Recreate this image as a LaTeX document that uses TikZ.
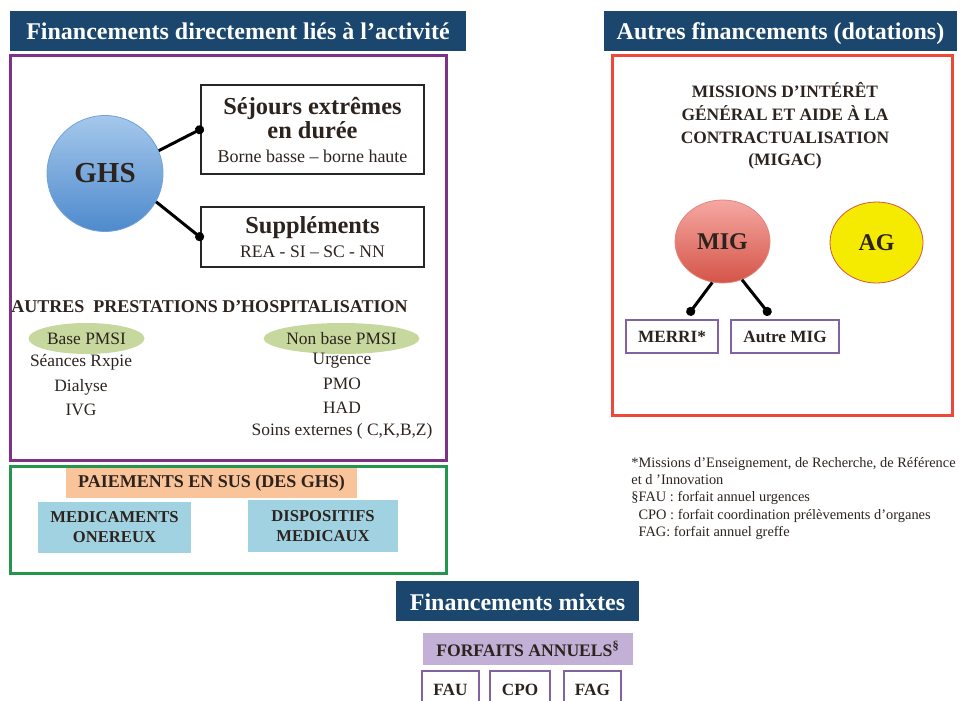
\documentclass[tikz,border=0pt]{standalone}
\usepackage{fontspec}
\setmainfont{Liberation Serif}
\definecolor{titleblue}{RGB}{27,71,110}
\definecolor{inkdark}{RGB}{45,35,30}
\definecolor{actpurple}{RGB}{125,50,135}
\definecolor{susgreen}{RGB}{35,150,75}
\definecolor{dotred}{RGB}{238,72,58}
\definecolor{ghstop}{RGB}{165,200,235}
\definecolor{ghsbot}{RGB}{78,138,205}
\definecolor{migtop}{RGB}{245,168,162}
\definecolor{migbot}{RGB}{212,84,72}
\definecolor{agyellow}{RGB}{245,235,0}
\definecolor{pmsigreen}{RGB}{198,216,158}
\definecolor{susorange}{RGB}{250,196,154}
\definecolor{dmblue}{RGB}{160,210,225}
\definecolor{boxlilac}{RGB}{128,100,162}
\definecolor{forfaitfill}{RGB}{195,176,214}
\usetikzlibrary{positioning, arrows.meta, shapes.geometric}

\begin{document}
\begin{tikzpicture}[x=0.5pt, y=-0.5pt,
    every node/.append style={text=inkdark},
    header/.style={fill=titleblue, text=white, inner sep=0pt, minimum height=20pt,
      text height=10pt, text depth=1pt, font=\fontsize{12}{14}\selectfont\bfseries},
    frame/.style={draw, line width=1.5pt, inner sep=0pt},
    blackbox/.style={draw=black!85, line width=1pt, inner sep=0pt, align=center,
      minimum width=111.5pt},
    bigb/.style={font=\fontsize{14.5}{16}\selectfont\bfseries},
    pmsi/.style={ellipse, fill=pmsigreen, inner sep=0pt, minimum width=58pt,
      minimum height=15.5pt, font=\fontsize{8.7}{10}\selectfont},
    item/.style={font=\fontsize{8.7}{10}\selectfont, inner sep=0pt},
    capsb/.style={font=\fontsize{9}{10.5}\selectfont\bfseries, inner sep=0pt, align=center},
    lilac/.style={draw=boxlilac, line width=1pt, inner sep=0pt,
      font=\fontsize{8.6}{10}\selectfont\bfseries},
    link/.style={line width=1.5pt, -{Circle[length=4.5pt]}},
  ]
  \useasboundingbox (0,0) rectangle (961,700);

  % activite
  \node[header, minimum width=228pt] (hact) at (238,31) {Financements directement liés à l’activité};
  \node[frame, draw=actpurple, minimum width=218pt, minimum height=202pt] (actbox) at (228,258) {};
  \node[circle, bigb, minimum size=58pt, inner sep=0pt, top color=ghstop, bottom color=ghsbot,
    draw=ghsbot!80] (ghs) at (105,173.5) {GHS};
  \node[blackbox, minimum height=44.5pt] (sej) at (312.5,129.5)
    {\fontsize{12.2}{13}\selectfont\bfseries Séjours extrêmes\\
     \fontsize{12.2}{13}\selectfont\bfseries en durée\\
     \fontsize{9}{12}\selectfont Borne basse -- borne haute};
  \node[blackbox, minimum height=30pt] (sup) at (312.5,237)
    {\fontsize{12.2}{12}\selectfont\bfseries Suppléments\\
     \fontsize{8.8}{12}\selectfont REA - SI -- SC - NN};
  \draw[link, shorten >=-2pt] (ghs.23) -- (sej.west);
  \draw[link, shorten >=-2pt] (ghs.-29) -- (sup.west);

  \node[capsb, anchor=west] (autres) at (11,307) {AUTRES\ \ PRESTATIONS D’HOSPITALISATION};
  \node[pmsi] (base) at (86.5,338.5) {Base PMSI};
  \node[item] (seances) at (81,362) {Séances Rxpie};
  \node[item] (dialyse) at (81,387) {Dialyse};
  \node[item] (ivg) at (81,410) {IVG};
  \node[pmsi, minimum width=63pt] (nonbase) at (341.5,338.5) {Non base PMSI};
  \node[item] (urgence) at (342,361) {Urgence};
  \node[item] (pmo) at (342,384) {PMO};
  \node[item] (had) at (342,408) {HAD};
  \node[item] (soins) at (342,431) {Soins externes ( C,K,B,Z)};

  % paiements en sus
  \node[frame, draw=susgreen, minimum width=218pt, minimum height=53.5pt] (susbox) at (228,519.5) {};
  \node[capsb, fill=susorange, minimum width=145.5pt, minimum height=15pt] (sus) at (211.5,483)
    {PAIEMENTS EN SUS (DES GHS)};
  \node[capsb, font=\fontsize{8.3}{10}\selectfont\bfseries, fill=dmblue, minimum width=76.5pt,
    minimum height=25.5pt] (medic) at (114.5,527.5) {MEDICAMENTS\\ONEREUX};
  \node[capsb, font=\fontsize{8.3}{10}\selectfont\bfseries, fill=dmblue, minimum width=75pt,
    minimum height=26pt] (dispo) at (323,526) {DISPOSITIFS\\MEDICAUX};

  % dotations
  \node[header, minimum width=176.5pt] (hdot) at (780.5,31) {Autres financements (dotations)};
  \node[frame, draw=dotred, minimum width=170pt, minimum height=179.5pt] (dotbox) at (782,235.5) {};
  \node[capsb, font=\fontsize{8.7}{11.4}\selectfont\bfseries] (migac) at (785,126)
    {MISSIONS D’INTÉRÊT\\GÉNÉRAL ET AIDE À LA\\CONTRACTUALISATION\\(MIGAC)};
  \node[ellipse, font=\fontsize{12}{14}\selectfont\bfseries, minimum width=47.5pt,
    minimum height=41.5pt, inner sep=0pt, top color=migtop, bottom color=migbot,
    draw=migbot!70] (mig) at (722.5,241.5) {MIG};
  \node[ellipse, font=\fontsize{12}{14}\selectfont\bfseries, minimum width=46.5pt,
    minimum height=40.5pt, inner sep=0pt, fill=agyellow, draw=migbot] (ag) at (876.5,242.5) {AG};
  \node[lilac, minimum width=46pt, minimum height=16.5pt] (merri) at (672,336.5) {MERRI*};
  \node[lilac, minimum width=54pt, minimum height=16.5pt] (autremig) at (785,336.5) {Autre MIG};
  \draw[link] (mig.256) -- ([xshift=8pt, yshift=2pt]merri.north);
  \draw[link] (mig.297) -- ([xshift=-7.5pt, yshift=2pt]autremig.north);

  \node[anchor=north west, align=left, inner sep=0pt,
    font=\fontsize{7.2}{8.6}\selectfont] (notes) at (631,457)
    {*Missions d’Enseignement, de Recherche, de Référence\\
     et d ’Innovation\\
     §FAU : forfait annuel urgences\\
     \ \ CPO : forfait coordination prélèvements d’organes\\
     \ \ FAG: forfait annuel greffe};

  % mixtes
  \node[header, minimum width=121.5pt] (hmix) at (517.5,601) {Financements mixtes};
  \node[capsb, font=\fontsize{8.8}{10}\selectfont\bfseries, fill=forfaitfill, minimum width=105pt,
    minimum height=16pt] (forfaits) at (528,649) {FORFAITS ANNUELS\textsuperscript{§}};
  \node[lilac, minimum width=28.5pt, minimum height=19pt] (fau) at (450.5,690) {FAU};
  \node[lilac, minimum width=30pt, minimum height=19pt] (cpo) at (520,690) {CPO};
  \node[lilac, minimum width=28.5pt, minimum height=19pt] (fag) at (592.5,690) {FAG};
\end{tikzpicture}
\end{document}
